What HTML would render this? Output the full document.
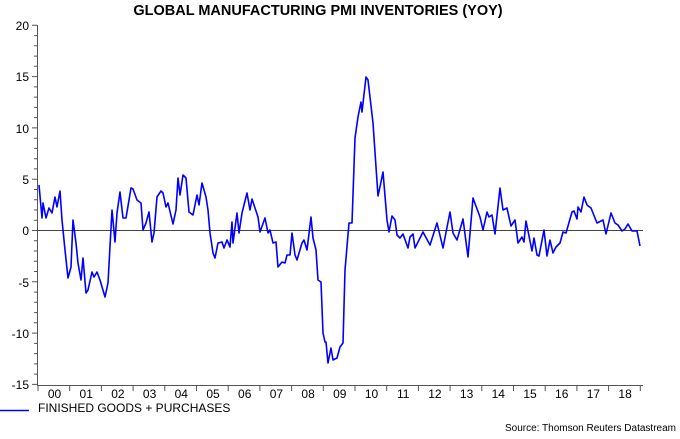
<!DOCTYPE html>
<html><head><meta charset="utf-8"><style>
body{margin:0;background:#fff;}
svg text{font-family:"Liberation Sans",Arial,sans-serif;}
</style></head><body>
<svg width="680" height="434" viewBox="0 0 680 434" xmlns="http://www.w3.org/2000/svg">
<text x="318" y="15" text-anchor="middle" font-size="14.5" font-weight="bold">GLOBAL MANUFACTURING PMI INVENTORIES (YOY)</text>
<g font-size="12" text-anchor="end" fill="#000">
<text x="29" y="30">20</text><text x="29" y="81">15</text><text x="29" y="133">10</text><text x="29" y="184">5</text><text x="29" y="235">0</text><text x="29" y="287">-5</text><text x="29" y="338">-10</text><text x="29" y="389">-15</text>
</g>
<g stroke="#555" stroke-width="1" fill="none">
<line x1="37.5" y1="25" x2="37.5" y2="385"/>
<line x1="37" y1="385.5" x2="643" y2="385.5"/>
<line x1="37" y1="230.5" x2="643" y2="230.5" stroke="#444"/>
<path d="M32 25.3H37M34 35.6H37M34 45.8H37M34 56.1H37M34 66.3H37M32 76.6H37M34 86.9H37M34 97.1H37M34 107.4H37M34 117.6H37M32 127.9H37M34 138.2H37M34 148.4H37M34 158.7H37M34 168.9H37M32 179.2H37M34 189.5H37M34 199.7H37M34 210H37M34 220.2H37M32 230.5H37M34 240.8H37M34 251H37M34 261.3H37M34 271.5H37M32 281.8H37M34 292.1H37M34 302.3H37M34 312.6H37M34 322.8H37M32 333.1H37M34 343.4H37M34 353.6H37M34 363.9H37M34 374.1H37M32 384.4H37"/>
<path d="M38 385V391M69.7 385V391M101.4 385V391M133.1 385V391M164.8 385V391M196.5 385V391M228.2 385V391M259.9 385V391M291.6 385V391M323.3 385V391M355 385V391M386.7 385V391M418.4 385V391M450.1 385V391M481.8 385V391M513.5 385V391M545.2 385V391M576.9 385V391M608.6 385V391M640.3 385V391"/>
</g>
<g font-size="12" text-anchor="middle">
<text x="54.5" y="398">00</text><text x="86.2" y="398">01</text><text x="117.9" y="398">02</text><text x="149.6" y="398">03</text><text x="181.3" y="398">04</text><text x="213" y="398">05</text><text x="244.7" y="398">06</text><text x="276.4" y="398">07</text><text x="308.1" y="398">08</text><text x="339.8" y="398">09</text><text x="371.5" y="398">10</text><text x="403.2" y="398">11</text><text x="434.9" y="398">12</text><text x="466.6" y="398">13</text><text x="498.3" y="398">14</text><text x="530" y="398">15</text><text x="561.7" y="398">16</text><text x="593.4" y="398">17</text><text x="625.1" y="398">18</text>
</g>
<polyline fill="none" stroke="#0000ff" stroke-width="1.6" stroke-linejoin="round" points="39,185 42,218 43,203 46,218 49,208 52,213 55,197 57,207 60,191 62,220 65,250 68,278 71,267 73,220 76,243 78,263 81,280 83,258 86,293 88,290 92,272 94,277 97,272 100,280 105,297 108,283 112,210 115,242 117,213 120,192 123,218 126,218 131,188 133,189 137,200 141,203 143,230 146,223 149,212 152,242 154,233 157,197 161,191 163,193 166,207 168,203 173,224 176,210 178,178 180,195 183,175 186,178 189,212 193,215 197,195 199,205 202,183 206,197 208,210 210,233 213,253 215,258 218,243 222,242 224,248 227,240 230,247 232,222 233,243 237,213 239,233 242,213 247,193 250,210 252,199 258,217 260,232 265,218 268,233 270,230 273,243 276,242 278,267 282,262 285,263 287,255 290,255 292,233 295,255 297,260 302,243 304,240 307,250 311,217 313,238 316,250 318,280 321,282 323,333 325,342 326,342 328,363 331,348 333,360 337,358 340,347 343,343 345,270 349,223 352,223 355,138 358,117 361,102 362,112 366,77 368,80 373,123 378,196 381,182 383,172 387,220 389,232 392,216 395,220 397,235 400,238 403,234 408,248 410,237 413,234 415,248 423,232 430,245 437,223 443,248 450,212 453,233 457,240 463,219 468,257 473,198 480,217 483,230 487,212 489,217 492,215 495,234 500,188 503,210 507,208 511,226 515,220 518,243 522,237 524,242 526,221 532,251 534,238 537,255 539,256 544,230 547,256 550,240 553,253 556,247 560,243 563,232 566,233 572,212 574,211 577,219 578,207 581,212 584,197 587,205 591,208 597,223 603,220 606,234 611,213 615,223 618,225 622,231 625,229 628,224 632,231 637,231 640,246"/>
<line x1="0" y1="410.5" x2="29" y2="410.5" stroke="#0000ff" stroke-width="1.5"/>
<text x="38" y="412" font-size="12">FINISHED GOODS + PURCHASES</text>
<text x="676" y="431" font-size="10" text-anchor="end">Source: Thomson Reuters Datastream</text>
</svg>
</body></html>
